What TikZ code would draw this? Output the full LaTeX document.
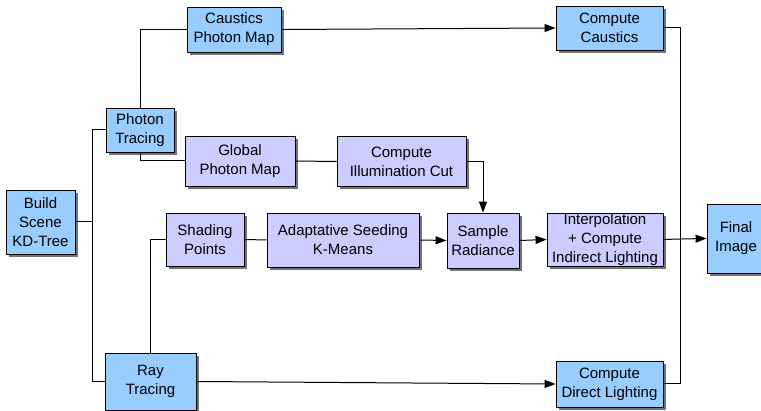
\documentclass[tikz,border=0pt]{standalone}
\usepackage{fontspec}
\setmainfont{Liberation Sans}
\usetikzlibrary{arrows.meta,shadows}

\definecolor{stageblue}{HTML}{99CCFF}
\definecolor{stagelilac}{HTML}{CCCCFF}

\tikzset{
	stage/.style={rectangle,draw=black,line width=0.9pt,inner sep=0pt,align=center,
		font=\fontsize{15}{19}\selectfont,
		drop shadow={shadow xshift=3pt,shadow yshift=-3pt,fill=black!55,opacity=1}},
	photon stage/.style={stage,fill=stageblue},
	cut stage/.style={stage,fill=stagelilac},
	link/.style={draw=black,line width=1pt},
	feed/.style={link,-{Triangle[length=11pt,width=8pt]}},
}

\begin{document}
\begin{tikzpicture}[x=1pt,y=-1pt]
	\useasboundingbox (0,0) rectangle (761,411);

	\node (build)    [photon stage,minimum width=69pt,minimum height=64pt]  at (40.5,222)  {Build\\Scene\\KD-Tree};
	\node (photon)   [photon stage,minimum width=68pt,minimum height=44pt]  at (140,130)   {Photon\\Tracing};
	\node (caustmap) [photon stage,minimum width=94pt,minimum height=45pt]  at (234,29.5)  {Caustics\\Photon Map};
	\node (ray)      [photon stage,minimum width=91pt,minimum height=57pt]  at (150.5,381.5) {Ray\\Tracing};
	\node (caustics) [photon stage,minimum width=107pt,minimum height=44pt] at (609.5,28)  {Compute\\Caustics};
	\node (direct)   [photon stage,minimum width=107pt,minimum height=46pt] at (609.5,384) {Compute\\Direct Lighting};
	\node (final)    [photon stage,minimum width=58pt,minimum height=69pt]  at (736,238.5) {Final\\Image};

	\node (globmap)  [cut stage,minimum width=110pt,minimum height=50pt] at (240,161)    {Global\\Photon Map};
	\node (illumcut) [cut stage,minimum width=129pt,minimum height=50pt] at (401.5,161.5) {Compute\\Illumination Cut};
	\node (shading)  [cut stage,minimum width=78pt,minimum height=53pt]  at (205,239.5)  {Shading\\Points};
	\node (seeding)  [cut stage,minimum width=152pt,minimum height=54pt] at (343,240)    {Adaptative Seeding\\K-Means};
	\node (radiance) [cut stage,minimum width=72pt,minimum height=55pt]  at (483,240.5)  {Sample\\Radiance};
	\node (interp)   [cut stage,minimum width=116pt,minimum height=53pt] at (605,239.5)  {Interpolation\\+ Compute\\Indirect Lighting};

	\coordinate (split)  at (92,222);
	\coordinate (gather) at (680,239);

	% photon branch
	\draw[link] (build.east) -- (split) |- (photon.west);
	\draw[link] (split) |- (ray.west);
	\draw[link] (photon.north) |- (caustmap.west);
	\draw[link] (photon.south) |- (globmap.west);
	\draw[link] (globmap.east) -- (illumcut.west);
	\draw[feed] (illumcut.east) -| (radiance.north);
	\draw[feed] (caustmap.east) -- (caustics.west);

	% shading branch
	\draw[link] (ray.north) |- (shading.west);
	\draw[link] (shading.east) -- (seeding.west);
	\draw[feed] (seeding.east) -- (radiance.west);
	\draw[feed] (radiance.east) -- (interp.west);
	\draw[feed] (ray.east) -- (direct.west);

	% gathering
	\draw[link] (caustics.east) -| (gather);
	\draw[link] (direct.east) -| (gather);
	\draw[link] (interp.east) -- (gather);
	\draw[feed] (gather) -- (final.west);
\end{tikzpicture}
\end{document}
